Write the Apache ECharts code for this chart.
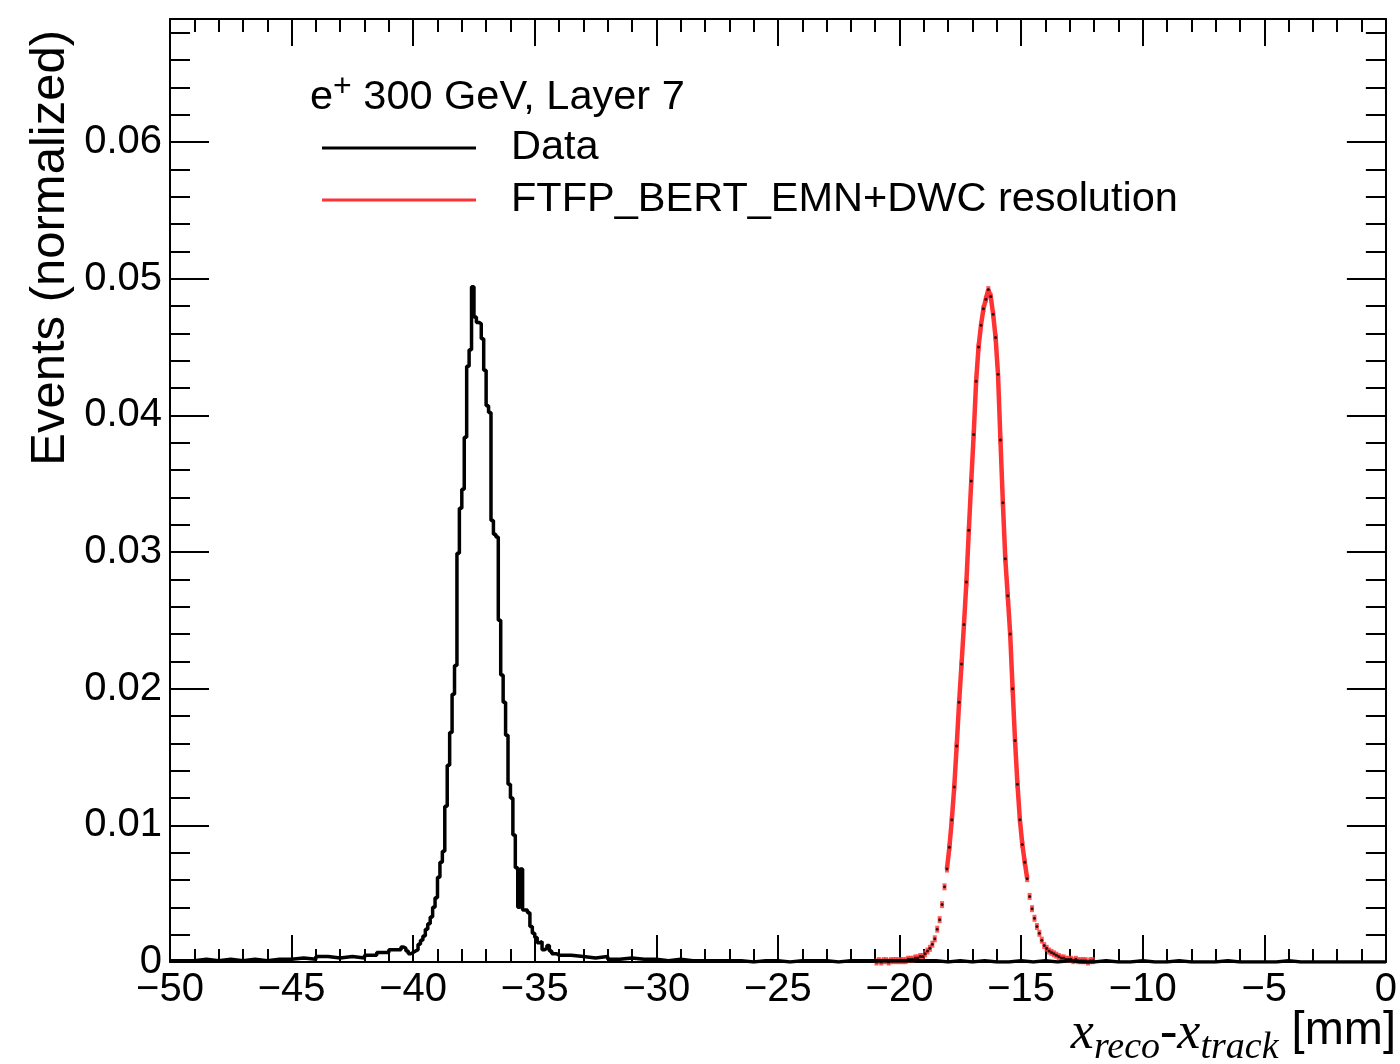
<!DOCTYPE html>
<html>
<head>
<meta charset="utf-8">
<title>x_reco - x_track, Layer 7</title>
<script src="https://cdn.jsdelivr.net/npm/echarts@6/dist/echarts.min.js"></script>
<style>
  html, body { margin: 0; padding: 0; background: #fff; }
  #chart { width: 1400px; height: 1064px; }
</style>
</head>
<body>
<div id="chart"></div>
<script>
// ---- data histogram (black), coarse bins in the tails, 0.1 mm bins in the core ----
const dataLeftStart = -50, dataLeftWidth = 0.5;
const dataLeft = [
  0.0001, 0.0001, 0.0002, 0.0001, 0.0002, 0.0001, 0.0002, 0.0001, 0.0002, 0.0002,
  0.0003, 0.0002, 0.0004, 0.0003, 0.0004, 0.0003, 0.0005, 0.0007, 0.0009
];
const dataCoreStart = -40.5, dataCoreWidth = 0.1;
const dataCore = [
  0.0011, 0.0010, 0.0008, 0.0006, 0.0007, 0.0008, 0.0009, 0.0013, 0.0016, 0.0019,
  0.0024, 0.0028, 0.0033, 0.0040, 0.0047, 0.0062, 0.0073, 0.0081, 0.0114, 0.0144,
  0.0168, 0.0196, 0.0217, 0.0299, 0.0332, 0.0346, 0.0384, 0.0436, 0.0448, 0.0494,
  0.0472, 0.0468, 0.0467, 0.0456, 0.0433, 0.0407, 0.0402, 0.0323, 0.0313, 0.0311,
  0.0250, 0.0210, 0.0190, 0.0166, 0.0130, 0.0120, 0.0093, 0.0069, 0.0040, 0.0068,
  0.0038, 0.0038, 0.0036, 0.0026, 0.0021, 0.0018, 0.0014, 0.0015, 0.0009, 0.0010,
  0.0012, 0.0008, 0.0006, 0.0006, 0.0005
];
const dataRightStart = -34, dataRightWidth = 0.5;
const dataRight = [
  0.0005, 0.0004, 0.0003, 0.0004, 0.0002, 0.0003, 0.0002, 0.0002, 0.0001, 0.0002,
  0.0001, 0.0001, 0.0001, 0.0001, 0.0001, 0.0000, 0.0001, 0.0001, 0.0000, 0.0001,
  0.0001, 0.0001, 0.0000, 0.0001, 0.0001, 0.0001, 0.0001, 0.0001, 0.0001, 0.0001,
  0.0001, 0.0000, 0.0001, 0.0000, 0.0001, 0.0000, 0.0000, 0.0001, 0.0000, 0.0001,
  0.0000, 0.0001, 0.0000, 0.0000, 0.0001, 0.0000, 0.0000, 0.0001, 0.0000, 0.0000,
  0.0001, 0.0000, 0.0000, 0.0000, 0.0001, 0.0000, 0.0000, 0.0000, 0.0000, 0.0001,
  0.0000, 0.0000, 0.0000, 0.0000, 0.0000, 0.0000, 0.0000, 0.0000
];

// ---- simulation (red), bin centres every 0.1 mm ----
const simStart = -20.95, simWidth = 0.1;
const simVals = [
  0.0000, 0.0001, 0.0000, 0.0001, 0.0001, 0.0000, 0.0001, 0.0001, 0.0001, 0.0001,
  0.0001, 0.0001, 0.0001, 0.0002, 0.0002, 0.0002, 0.0003, 0.0003, 0.0004, 0.0004,
  0.0006, 0.0008, 0.0010, 0.0013, 0.0017, 0.0024, 0.0031, 0.0042, 0.0055, 0.0068,
  0.0084, 0.0104, 0.0128, 0.0158, 0.0190, 0.0218, 0.0247, 0.0278, 0.0316, 0.0352,
  0.0386, 0.0425, 0.0450, 0.0466, 0.0478, 0.0485, 0.0492, 0.0487, 0.0474, 0.0457,
  0.0430, 0.0382, 0.0336, 0.0295, 0.0268, 0.0240, 0.0200, 0.0162, 0.0130, 0.0104,
  0.0086, 0.0073, 0.0061, 0.0048, 0.0039, 0.0032, 0.0026, 0.0021, 0.0016, 0.0012,
  0.0010, 0.0008, 0.0007, 0.0006, 0.0005, 0.0004, 0.0003, 0.0003, 0.0002, 0.0002,
  0.0002, 0.0001, 0.0002, 0.0001, 0.0001, 0.0001, 0.0001, 0.0000, 0.0001, 0.0001
];
const simCoreMin = 0.006;   // above this the markers merge into a solid line

const xTicks = { min: -50, max: 0, interval: 5 };
const yTicks = { min: 0, max: 0.069, interval: 0.01 };

const dataName = 'Data';
const simName = 'FTFP_BERT_EMN+DWC resolution';
const red = '#ff3333';
const sans = '"Liberation Sans", Arial, Helvetica, sans-serif';
const serif = '"Liberation Serif", "Times New Roman", serif';

function r4(v) { return Math.round(v * 10000) / 10000; }

// histogram outline for a step line
function histPoints(segs) {
  const pts = [];
  let lastEdge = 0, lastVal = 0;
  segs.forEach(([start, width, vals]) => {
    vals.forEach((v, i) => {
      pts.push([r4(start + i * width), v]);
      lastEdge = r4(start + (i + 1) * width);
      lastVal = v;
    });
  });
  pts.push([lastEdge, lastVal]);
  return pts;
}

const dataPoints = histPoints([
  [dataLeftStart, dataLeftWidth, dataLeft],
  [dataCoreStart, dataCoreWidth, dataCore],
  [dataRightStart, dataRightWidth, dataRight]
]);
const simPoints = simVals.map((v, i) => [r4(simStart + i * simWidth), v]);
const first = simVals.findIndex(v => v >= simCoreMin);
let last = first;
while (last + 1 < simVals.length && simVals[last + 1] >= simCoreMin) last++;
const simCore = simPoints.slice(first, last + 1);

const tickStyle = { color: '#000', width: 2 };

function xAxisCfg(pos, labels) {
  return {
    type: 'value', position: pos, min: xTicks.min, max: xTicks.max, interval: xTicks.interval,
    axisLine: { show: true, onZero: false, lineStyle: tickStyle },
    axisTick: { show: true, inside: true, length: 27, lineStyle: tickStyle },
    minorTick: { show: true, splitNumber: 5, length: 13, lineStyle: tickStyle },
    splitLine: { show: false },
    axisLabel: {
      show: labels, margin: 8, color: '#000', fontSize: 40, fontFamily: sans,
      formatter: v => (v < 0 ? '\u2212' + Math.abs(v) : String(v))
    }
  };
}
function yAxisCfg(pos, labels) {
  return {
    type: 'value', position: pos, min: yTicks.min, max: yTicks.max, interval: yTicks.interval,
    axisLine: { show: true, onZero: false, lineStyle: tickStyle },
    axisTick: { show: true, inside: true, length: 39, lineStyle: tickStyle },
    minorTick: { show: true, splitNumber: 5, length: 20, lineStyle: tickStyle },
    splitLine: { show: false },
    axisLabel: {
      show: labels, margin: 8, color: '#000', fontSize: 40, fontFamily: sans,
      formatter: v => (v === 0 ? '0' : v > 0.0655 ? '' : v.toFixed(2))
    }
  };
}

const chart = echarts.init(document.getElementById('chart'));
chart.setOption({
  animation: false,
  backgroundColor: '#fff',
  grid: { left: 170, right: 2, top: 19, bottom: 102 },
  xAxis: [xAxisCfg('bottom', true), xAxisCfg('top', false)],
  yAxis: [yAxisCfg('left', true), yAxisCfg('right', false)],
  legend: {
    orient: 'vertical', left: 322, top: 127, padding: 0, itemGap: 10,
    itemWidth: 154, itemHeight: 3, selectedMode: false,
    data: [{ name: dataName, icon: 'rect' }, { name: simName, icon: 'rect' }],
    textStyle: { color: '#000', fontSize: 41.5, fontFamily: sans, lineHeight: 40, padding: [0, 0, 0, 30] }
  },
  graphic: [
    {
      type: 'text', x: 310, y: 71,
      style: {
        text: '{a|e}{s|+}{a| 300 GeV, Layer 7}',
        rich: {
          a: { fontSize: 41.5, fontFamily: sans, lineHeight: 48, verticalAlign: 'bottom', fill: '#000' },
          s: { fontSize: 32, fontFamily: sans, lineHeight: 30, verticalAlign: 'top', fill: '#000' }
        }
      }
    },
    {
      type: 'text', x: 50, y: 30, rotation: Math.PI / 2,
      style: {
        text: 'Events (normalized)', fontSize: 49, fontFamily: sans, fill: '#000',
        align: 'right', verticalAlign: 'middle'
      }
    },
    {
      type: 'text', x: 1396, y: 1008,
      style: {
        text: '{x|x}{s|reco}{x|-x}{s|track}{b| [mm]}',
        align: 'right', verticalAlign: 'top',
        rich: {
          x: { fontSize: 52, fontFamily: serif, fontStyle: 'italic', lineHeight: 52, verticalAlign: 'top', fill: '#000' },
          s: { fontSize: 38, fontFamily: serif, fontStyle: 'italic', lineHeight: 38, verticalAlign: 'top', padding: [21, 0, 0, 0], fill: '#000' },
          b: { fontSize: 47, fontFamily: sans, lineHeight: 52, verticalAlign: 'top', fill: '#000' }
        }
      }
    }
  ],
  series: [
    {
      name: dataName, type: 'line', step: 'end', data: dataPoints,
      showSymbol: false, z: 3,
      lineStyle: { color: '#000', width: 3.5 }, itemStyle: { color: '#000' }
    },
    {
      name: simName, type: 'line', data: simCore,
      showSymbol: false, z: 2,
      lineStyle: { color: red, width: 4.5 }, itemStyle: { color: red }
    },
    {
      type: 'scatter', data: simPoints, symbol: 'rect', symbolSize: [4, 7], z: 2,
      itemStyle: { color: red }, silent: true
    },
    {
      type: 'scatter', data: simPoints, symbol: 'circle', symbolSize: 3, z: 4,
      itemStyle: { color: '#000' }, silent: true
    }
  ]
});
</script>
</body>
</html>
